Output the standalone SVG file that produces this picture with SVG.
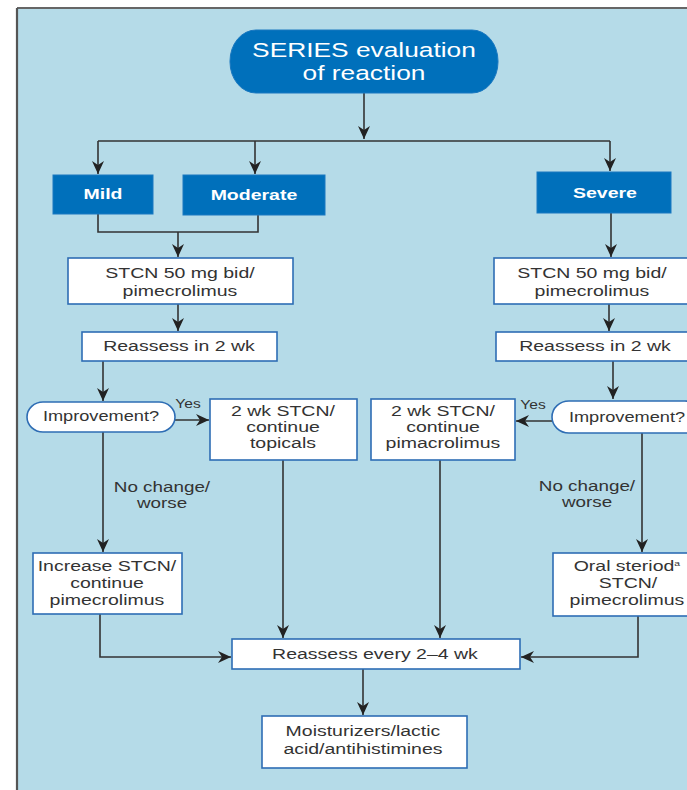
<svg xmlns="http://www.w3.org/2000/svg" width="687" height="790" viewBox="0 0 687 790">
<defs>
<style>
text{font-family:"Liberation Sans",Arial,sans-serif;fill:#333;text-anchor:middle;transform-box:fill-box;transform-origin:center;transform:scaleX(1.3)}
.t{font-size:15px}
.ti{font-size:19.5px;fill:#fff;transform:scaleX(1.35)}
.sv{font-size:15px;font-weight:bold;fill:#fff}
.im{font-size:14px}
.lb{font-size:14.5px}
.ys{font-size:12px}
.box{fill:#fff;stroke:#2e6db4;stroke-width:1.6}
.dk{fill:#0070bb;stroke:#1a78c0;stroke-width:1}
.c{fill:none;stroke:#333;stroke-width:1.6}
</style>
<marker id="ah" markerUnits="userSpaceOnUse" markerWidth="14" markerHeight="14" viewBox="0 0 14 14" refX="13" refY="7" orient="auto">
<path d="M0,1 L13,7 L0,13 L4,7 z" fill="#222"/>
</marker>
</defs>
<rect x="0" y="0" width="687" height="790" fill="#fff"/>
<rect x="17" y="8" width="680" height="790" fill="#b5dbe8"/>
<line x1="17" y1="8" x2="687" y2="8" stroke="#666" stroke-width="2"/>
<line x1="17" y1="8" x2="17" y2="790" stroke="#555" stroke-width="2.2"/>

<g id="connectors">
<line class="c" x1="364" y1="93" x2="364" y2="139" marker-end="url(#ah)"/>
<line class="c" x1="98" y1="141" x2="610" y2="141"/>
<line class="c" x1="98" y1="141" x2="98" y2="174" marker-end="url(#ah)"/>
<line class="c" x1="255" y1="141" x2="255" y2="174" marker-end="url(#ah)"/>
<line class="c" x1="610" y1="141" x2="610" y2="171" marker-end="url(#ah)"/>
<polyline class="c" points="98,214 98,232 258,232 258,215"/>
<line class="c" x1="178" y1="232" x2="178" y2="257" marker-end="url(#ah)"/>
<line class="c" x1="178" y1="304" x2="178" y2="331" marker-end="url(#ah)"/>
<line class="c" x1="103" y1="361" x2="103" y2="401" marker-end="url(#ah)"/>
<line class="c" x1="175" y1="420" x2="209" y2="420" marker-end="url(#ah)"/>
<line class="c" x1="103" y1="432" x2="103" y2="552" marker-end="url(#ah)"/>
<line class="c" x1="283" y1="460" x2="283" y2="638" marker-end="url(#ah)"/>
<line class="c" x1="440" y1="460" x2="440" y2="638" marker-end="url(#ah)"/>
<polyline class="c" points="100,614 100,657 231,657" marker-end="url(#ah)"/>
<line class="c" x1="611" y1="213" x2="611" y2="257" marker-end="url(#ah)"/>
<line class="c" x1="609" y1="304" x2="609" y2="331" marker-end="url(#ah)"/>
<line class="c" x1="613" y1="361" x2="613" y2="399" marker-end="url(#ah)"/>
<line class="c" x1="552" y1="421" x2="516" y2="421" marker-end="url(#ah)"/>
<line class="c" x1="642" y1="433" x2="642" y2="552" marker-end="url(#ah)"/>
<polyline class="c" points="638,616 638,657 521,657" marker-end="url(#ah)"/>
<line class="c" x1="363" y1="669" x2="363" y2="715" marker-end="url(#ah)"/>
</g>

<g id="title">
<rect class="dk" x="230" y="30" width="268" height="63" rx="26" ry="31"/>
<text class="ti" x="364" y="57">SERIES evaluation</text>
<text class="ti" x="364" y="80">of reaction</text>
</g>
<g id="mild">
<rect class="dk" x="53" y="175" width="100" height="39"/>
<text class="sv" x="103" y="199">Mild</text>
</g>
<g id="moderate">
<rect class="dk" x="183" y="175" width="142" height="40"/>
<text class="sv" x="254" y="200">Moderate</text>
</g>
<g id="severe">
<rect class="dk" x="537" y="172" width="134" height="41"/>
<text class="sv" x="605" y="198">Severe</text>
</g>
<g id="stcn-left">
<rect class="box" x="68" y="258" width="225" height="46"/>
<text class="t" x="180" y="278">STCN 50 mg bid/</text>
<text class="t" x="180" y="296">pimecrolimus</text>
</g>
<g id="reassess-left">
<rect class="box" x="82" y="332" width="195" height="29"/>
<text class="t" x="179" y="351">Reassess in 2 wk</text>
</g>
<g id="stcn-right">
<rect class="box" x="494" y="258" width="200" height="46"/>
<text class="t" x="592" y="278">STCN 50 mg bid/</text>
<text class="t" x="592" y="296">pimecrolimus</text>
</g>
<g id="reassess-right">
<rect class="box" x="496" y="332" width="198" height="29"/>
<text class="t" x="595" y="351">Reassess in 2 wk</text>
</g>
<g id="improvement-left">
<rect class="box" x="27" y="402" width="148" height="30" rx="16" ry="15"/>
<text class="im" x="101" y="421">Improvement?</text>
</g>
<text class="ys" x="188" y="408">Yes</text>
<g id="improvement-right">
<rect class="box" x="552" y="401" width="150" height="32" rx="17" ry="16"/>
<text class="im" x="627" y="422">Improvement?</text>
</g>
<text class="ys" x="533" y="409">Yes</text>
<g id="topicals">
<rect class="box" x="210" y="399" width="147" height="61"/>
<text class="t" x="283" y="416">2 wk STCN/</text>
<text class="t" x="283" y="432">continue</text>
<text class="t" x="283" y="448">topicals</text>
</g>
<g id="pimacrolimus">
<rect class="box" x="371" y="399" width="144" height="61"/>
<text class="t" x="443" y="416">2 wk STCN/</text>
<text class="t" x="443" y="432">continue</text>
<text class="t" x="443" y="448">pimacrolimus</text>
</g>
<text class="lb" x="162" y="492">No change/</text>
<text class="lb" x="162" y="508">worse</text>
<text class="lb" x="587" y="491">No change/</text>
<text class="lb" x="587" y="507">worse</text>
<g id="increase">
<rect class="box" x="33" y="553" width="149" height="61"/>
<text class="t" x="107" y="571">Increase STCN/</text>
<text class="t" x="107" y="588">continue</text>
<text class="t" x="107" y="605">pimecrolimus</text>
</g>
<g id="oral">
<rect class="box" x="553" y="553" width="145" height="63"/>
<text class="t" x="627" y="571">Oral steriod<tspan font-size="8" dy="-5">a</tspan></text>
<text class="t" x="628" y="588">STCN/</text>
<text class="t" x="627" y="605">pimecrolimus</text>
</g>
<g id="reassess-every">
<rect class="box" x="232" y="639" width="288" height="30"/>
<text class="t" x="375" y="659">Reassess every 2–4 wk</text>
</g>
<g id="moisturizers">
<rect class="box" x="262" y="716" width="205" height="52"/>
<text class="t" x="363" y="736">Moisturizers/lactic</text>
<text class="t" x="363" y="754">acid/antihistimines</text>
</g>
</svg>
